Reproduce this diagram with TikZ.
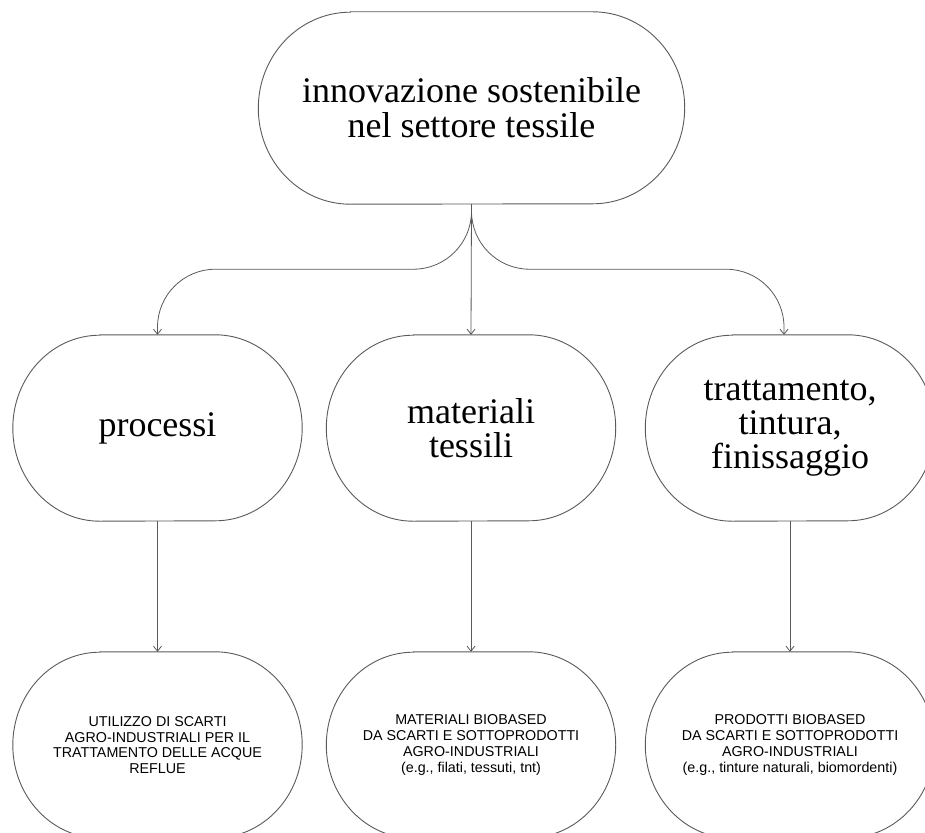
\documentclass[tikz,border=0pt]{standalone}
\usepackage{fontspec}
\setmainfont{Liberation Serif}
\newfontfamily\grot{Liberation Sans}
\usetikzlibrary{arrows.meta}
\definecolor{linegray}{HTML}{5A5A5A}
\newcommand\drawcapsule[3]{%
  \draw[outline] ([xshift=#2]#1.north west) -- ([xshift=-#2]#1.north east)
    arc[start angle=90,end angle=-90,x radius=#2,y radius=#3]
    -- ([xshift=#2]#1.south west)
    arc[start angle=270,end angle=90,x radius=#2,y radius=#3] -- cycle;}
\begin{document}
\begin{tikzpicture}[x=1pt,y=-1pt,
  outline/.style={draw=linegray, line width=0.9pt},
  box/.style={draw=none, inner sep=0pt, align=center},
  topbox/.style={box, minimum width=426pt, minimum height=192pt, font=\fontsize{36}{35}\selectfont},
  midbox/.style={box, minimum width=289pt, minimum height=186pt, font=\fontsize{36}{34}\selectfont},
  lowbox/.style={box, minimum width=289pt, minimum height=186pt, font=\grot\fontsize{14.3}{15.7}\selectfont},
  conn/.style={draw=linegray, line width=0.8pt, -{Straight Barb[length=5pt,width=8pt]}},
]
\clip (0,0) rectangle (925,832);
\fill[white] (0,0) rectangle (925,832);

\node[topbox] (T) at (471.5,108) {innovazione sostenibile\\nel settore tessile};

\node[midbox] (M1) at (157.5,428) {processi};
\node[midbox] (M2) at (471,428) {materiali\\tessili};
\node[midbox] (M3) at (790,428) {trattamento,\\tintura,\\finissaggio};

\node[lowbox] (L1) at (157.5,745) {UTILIZZO DI SCARTI\\AGRO-INDUSTRIALI PER IL\\TRATTAMENTO DELLE ACQUE\\REFLUE};
\node[lowbox] (L2) at (471,745) {MATERIALI BIOBASED\\DA SCARTI E SOTTOPRODOTTI\\AGRO-INDUSTRIALI\\(e.g., filati, tessuti, tnt)};
\node[lowbox] (L3) at (790,745) {PRODOTTI BIOBASED\\DA SCARTI E SOTTOPRODOTTI\\AGRO-INDUSTRIALI\\(e.g., tinture naturali, biomordenti)};

\drawcapsule{T}{92pt}{96pt}
\drawcapsule{M1}{87pt}{93pt}
\drawcapsule{M2}{87pt}{93pt}
\drawcapsule{M3}{87pt}{93pt}
\drawcapsule{L1}{87pt}{93pt}
\drawcapsule{L2}{87pt}{93pt}
\drawcapsule{L3}{87pt}{93pt}

\draw[conn, rounded corners=58pt] (T.south) -- ++(0,65) -| (M1.north);
\draw[conn] (T.south) -- (M2.north);
\draw[conn, rounded corners=58pt] (T.south) -- ++(0,65) -| ([xshift=-6pt]M3.north);

\draw[conn] (M1.south) -- (L1.north);
\draw[conn] (M2.south) -- (L2.north);
\draw[conn] (M3.south) -- (L3.north);
\end{tikzpicture}
\end{document}
